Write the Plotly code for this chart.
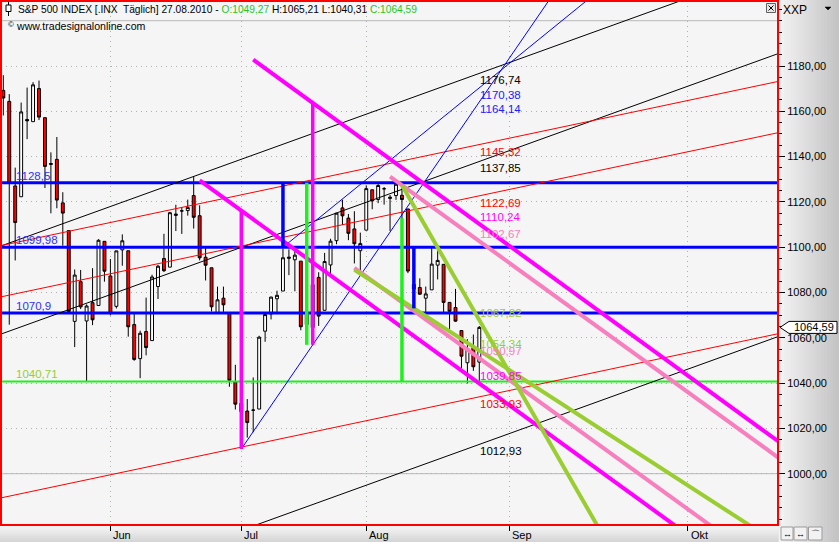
import plotly.graph_objects as go

# ---------------- data ----------------
bars = list(range(81))  # trading days 05.05.2010 .. 27.08.2010
opens = [1169.24, 1164.38, 1127.04, 1122.27, 1156.39, 1155.43, 1170.04, 1157.19, 1136.52, 1138.78,
         1119.57, 1107.34, 1067.26, 1084.78, 1067.42, 1075.51, 1074.27, 1102.59, 1087.30, 1073.89,
         1098.82, 1098.43, 1065.84, 1050.81, 1062.75, 1058.77, 1082.65, 1095.00, 1091.21, 1114.02,
         1115.98, 1116.16, 1122.79, 1113.90, 1095.57, 1090.93, 1071.10, 1077.50, 1071.10, 1040.56,
         1031.10, 1027.65, 1028.09, 1028.54, 1062.92, 1070.50, 1077.23, 1080.65, 1095.61, 1094.46,
         1093.85, 1065.84, 1064.53, 1086.67, 1072.14, 1092.17, 1102.89, 1117.36, 1112.84, 1108.07,
         1098.44, 1107.53, 1125.34, 1121.06, 1125.78, 1122.07, 1122.80, 1122.92, 1116.89, 1081.48,
         1082.22, 1077.49, 1081.16, 1092.08, 1092.44, 1075.63, 1073.36, 1063.20, 1048.98, 1056.28,
         1049.27]
highs = [1175.95, 1167.58, 1135.13, 1163.85, 1170.48, 1172.87, 1173.57, 1157.19, 1141.88, 1148.66,
         1124.27, 1107.34, 1090.16, 1089.95, 1074.75, 1090.75, 1103.52, 1102.59, 1094.77, 1098.42,
         1105.67, 1098.43, 1071.36, 1063.15, 1077.74, 1087.85, 1092.25, 1105.91, 1115.59, 1118.74,
         1117.72, 1121.01, 1131.23, 1118.50, 1099.64, 1090.93, 1082.60, 1082.60, 1071.10, 1048.08,
         1033.58, 1032.95, 1042.50, 1060.89, 1071.25, 1078.16, 1080.78, 1099.46, 1099.08, 1098.66,
         1093.85, 1074.70, 1083.94, 1088.96, 1097.50, 1103.73, 1115.01, 1120.95, 1114.66, 1115.90,
         1106.44, 1127.30, 1125.44, 1128.75, 1126.56, 1123.06, 1129.24, 1127.16, 1116.89, 1086.72,
         1086.25, 1082.62, 1100.14, 1099.77, 1092.44, 1075.63, 1081.58, 1063.20, 1059.38, 1061.45,
         1065.21]
lows = [1158.15, 1065.79, 1094.15, 1122.27, 1147.71, 1155.43, 1156.14, 1126.14, 1114.96, 1117.20,
        1100.66, 1071.58, 1055.90, 1072.70, 1040.78, 1065.59, 1074.27, 1084.78, 1069.89, 1072.94,
        1091.81, 1060.50, 1049.86, 1042.17, 1052.25, 1058.77, 1077.12, 1089.03, 1091.21, 1107.13,
        1105.87, 1113.93, 1108.24, 1094.18, 1085.31, 1071.60, 1071.10, 1071.45, 1038.38, 1028.33,
        1010.91, 1015.93, 1018.35, 1028.54, 1058.24, 1068.10, 1070.45, 1080.65, 1087.68, 1080.53,
        1063.32, 1061.11, 1056.88, 1065.25, 1072.14, 1087.88, 1101.30, 1109.78, 1103.11, 1092.82,
        1088.01, 1107.53, 1116.76, 1119.46, 1118.81, 1107.17, 1120.91, 1111.58, 1088.55, 1076.69,
        1079.00, 1069.49, 1081.16, 1085.76, 1070.66, 1063.91, 1067.08, 1046.68, 1039.83, 1045.40,
        1040.31]
closes = [1165.87, 1128.15, 1110.88, 1159.73, 1155.79, 1171.67, 1157.44, 1135.68, 1136.94, 1120.80,
          1115.05, 1071.59, 1087.69, 1073.65, 1074.03, 1067.95, 1103.06, 1089.41, 1070.71, 1098.38,
          1102.83, 1064.88, 1050.47, 1062.00, 1055.69, 1086.84, 1091.60, 1089.63, 1115.23, 1114.61,
          1116.04, 1117.51, 1113.20, 1095.31, 1092.04, 1073.69, 1076.76, 1074.57, 1041.24, 1030.71,
          1027.37, 1022.58, 1028.06, 1060.27, 1070.25, 1077.96, 1078.75, 1095.34, 1095.17, 1096.48,
          1064.88, 1071.25, 1083.48, 1069.59, 1093.67, 1102.66, 1115.01, 1113.84, 1106.13, 1101.53,
          1101.60, 1125.86, 1120.46, 1127.24, 1125.81, 1121.64, 1127.79, 1121.06, 1089.47, 1083.61,
          1079.25, 1079.38, 1092.54, 1094.16, 1075.63, 1071.69, 1067.36, 1051.87, 1055.33, 1047.22,
          1064.59]

month_ticks = [18, 40, 61, 85, 115]
month_names = ["Jun", "Jul", "Aug", "Sep", "Okt"]
price_ticks = [1000, 1020, 1040, 1060, 1080, 1100, 1120, 1140, 1160, 1180]
solid_grid_levels = [1000, 1200]

hline_levels = [1128.5, 1099.98, 1070.9]
hline_texts = ["1128,5", "1099,98", "1070,9"]
support_level = 1040.71
support_text = "1040,71"

black_last = [1176.74, 1137.85, 1012.93]
black_texts = ["1176,74", "1137,85", "1012,93"]
black_slope = 0.948
red_last = [1145.32, 1122.69, 1033.93]
red_texts = ["1145,32", "1122,69", "1033,93"]
red_slope = 0.555

blue_start_bar = [40, 47]
blue_start_val = [1010.91, 1099.98]
blue_last = [1164.14, 1170.38]
blue_texts = ["1164,14", "1170,38"]

magenta_start_bar = [42, 33]
magenta_start_val = [1182.8, 1129.5]
magenta_last = [1110.24, 1039.85]
magenta_texts = ["1110,24", "1039,85"]

pink_start_bar = [65, 59]
pink_start_val = [1131.2, 1090.9]
pink_last = [1102.67, 1050.97]
pink_texts = ["1102,67", "1050,97"]

olive_start_bar = [67, 59]
olive_start_val = [1127.3, 1090.0]
olive_last = [1067.82, 1054.34]
olive_texts = ["1067,82", "1054,34"]

blue_v_bar = [47, 69]
blue_v_top = [1128.5, 1099.98]
blue_v_bottom = [1099.98, 1073.0]
green_v_bar = [51, 67]
green_v_top = [1128.5, 1112.8]
green_v_bottom = [1056.9, 1040.71]
magenta_v_bar = [40, 52]
magenta_v_top = [1116.1, 1163.7]
magenta_v_bottom = [1010.91, 1056.88]

last_bar = 80
last_price = 1064.59
last_price_text = "1064,59"

# ---------------- styling constants ----------------
FONT = "Liberation Sans, Arial, sans-serif"
BLUE = "#0000ff"
MAGENTA = "#ff00ff"
PINK = "#f77fbe"
OLIVE = "#9acd32"
LIME = "#1ef01e"
RED = "#ff0000"
X_RANGE = [-0.387, 130.2]
Y_RANGE = [977.35, 1208.7]
X_LO, X_HI = -3, 140

# pixel -> paper helpers (plot area: x 1..778, y 1..525)
PL, PT, PW, PH = 1, 1, 777, 524


def px(x):
    return (x - PL) / PW


def py(y):
    return (PT + PH - y) / PH


fig = go.Figure()

fig.add_trace(go.Candlestick(
    x=bars, open=opens, high=highs, low=lows, close=closes,
    increasing=dict(line=dict(color="black", width=1), fillcolor="white"),
    decreasing=dict(line=dict(color="black", width=1), fillcolor="red"),
    whiskerwidth=0, showlegend=False, hoverinfo="skip"))


def add_line(xs, ys, color, width):
    fig.add_trace(go.Scatter(x=xs, y=ys, mode="lines", line=dict(color=color, width=width),
                             showlegend=False, hoverinfo="skip"))


# horizontal levels
for lv in hline_levels:
    add_line([X_LO, X_HI], [lv, lv], BLUE, 3)
add_line([X_LO, X_HI], [support_level, support_level], LIME, 2)

# parallel infinite trend lines
for vals, slope, col in [(black_last, black_slope, "black"), (red_last, red_slope, RED)]:
    for v in vals:
        add_line([X_LO, X_HI], [v - (last_bar - X_LO) * slope, v + (X_HI - last_bar) * slope], col, 1)

# rays
for sb, sv, lv, col, w in [(blue_start_bar, blue_start_val, blue_last, BLUE, 1),
                           (pink_start_bar, pink_start_val, pink_last, PINK, 4),
                           (magenta_start_bar, magenta_start_val, magenta_last, MAGENTA, 4),
                           (olive_start_bar, olive_start_val, olive_last, OLIVE, 4)]:
    for b0, v0, v1 in zip(sb, sv, lv):
        s = (v1 - v0) / (last_bar - b0)
        add_line([b0, X_HI], [v0, v0 + (X_HI - b0) * s], col, w)

# verticals
for bl, tp, bt, col in [(blue_v_bar, blue_v_top, blue_v_bottom, BLUE),
                        (green_v_bar, green_v_top, green_v_bottom, LIME),
                        (magenta_v_bar, magenta_v_top, magenta_v_bottom, MAGENTA)]:
    for b, t, d in zip(bl, tp, bt):
        add_line([b, b], [t, d], col, 3.5)

annotations = []


def ann(text, x, y, xref, yref, color="black", size=11, xanchor="left", yanchor="middle", xshift=0, yshift=0):
    annotations.append(dict(text=text, x=x, y=y, xref=xref, yref=yref, showarrow=False,
                            font=dict(family=FONT, size=size, color=color),
                            xanchor=xanchor, yanchor=yanchor, xshift=xshift, yshift=yshift))


# left level labels
for lv, t in zip(hline_levels, hline_texts):
    ann(t, px(14), lv, "paper", "y", color="#3030ff", size=11.5, yshift=7)
ann(support_text, px(14), support_level, "paper", "y", color=OLIVE, size=11.5, yshift=7)

# right line labels at the last bar
for vals, texts, col, sh in [(black_last, black_texts, "black", -7),
                             (red_last, red_texts, RED, -7),
                             (blue_last, blue_texts, "#2020ff", -7),
                             (magenta_last, magenta_texts, MAGENTA, 7),
                             (pink_last, pink_texts, PINK, 7),
                             (olive_last, olive_texts, OLIVE, 7)]:
    for v, t in zip(vals, texts):
        ann(t, last_bar, v, "x", "y", color=col, size=11.5, yshift=sh, xshift=-1)

# month labels
for m, n in zip(month_ticks, month_names):
    ann(n, m, 0, "x", "paper", xshift=1, yshift=-10)

# header
header = ("S&amp;P 500 INDEX [.INX\u00a0 Täglich] 27.08.2010 - "
          "<span style='color:#1ec81e'>O:1049,27</span> H:1065,21 L:1040,31 "
          "<span style='color:#1ec81e'>C:1064,59</span>")
ann(header, px(16), py(9), "paper", "paper", size=10.2)
ann("www.tradesignalonline.com", px(14), py(26), "paper", "paper", size=10.6)
ann("©", px(6), py(25), "paper", "paper", size=8)
ann("XXP", px(781), py(10), "paper", "paper", size=12)
ann(last_price_text, px(792), last_price, "paper", "y")
for bx, sym in zip([787, 800.5, 815], ["↔", "↔", "⌒"]):
    ann(sym, px(bx), py(533.5), "paper", "paper", size=9, xanchor="center")

shapes = []
# right axis panel gradient
n = 20
for i in range(n):
    x0 = 778.5 + i * (60.5 / n)
    x1 = 778.5 + (i + 1) * (60.5 / n) + 0.3
    c = int(244 - (244 - 196) * i / (n - 1))
    shapes.append(dict(type="rect", xref="paper", yref="paper", x0=px(x0), x1=px(x1), y0=py(542), y1=py(0),
                       fillcolor=f"rgb({c},{c},{c})", line=dict(width=0), layer="below"))
# bottom axis panel gradient
m = 8
for i in range(m):
    y0 = 525.5 + i * (16.5 / m)
    y1 = 525.5 + (i + 1) * (16.5 / m) + 0.3
    c = int(246 - (246 - 214) * i / (m - 1))
    shapes.append(dict(type="rect", xref="paper", yref="paper", x0=px(0), x1=px(778.5), y0=py(y1), y1=py(y0),
                       fillcolor=f"rgb({c},{c},{c})", line=dict(width=0), layer="below"))
# solid grid levels
for lv in solid_grid_levels:
    shapes.append(dict(type="line", xref="paper", yref="y", x0=0, x1=1, y0=lv, y1=lv,
                       line=dict(color="#b8b8b8", width=1), layer="below"))
# red frame
shapes.append(dict(type="rect", xref="paper", yref="paper", x0=0, x1=1, y0=0, y1=1,
                   line=dict(color=RED, width=2), layer="above"))
# header icon
shapes.append(dict(type="line", xref="paper", yref="paper", x0=px(8.5), x1=px(8.5), y0=py(2), y1=py(16),
                   line=dict(color="black", width=1)))
shapes.append(dict(type="rect", xref="paper", yref="paper", x0=px(6), x1=px(11), y0=py(11.5), y1=py(5),
                   fillcolor="white", line=dict(color="black", width=1)))
# close box
shapes.append(dict(type="rect", xref="paper", yref="paper", x0=px(766.5), x1=px(775.5), y0=py(12.5), y1=py(3.5),
                   fillcolor="#e8e8e8", line=dict(color="#606060", width=1)))
shapes.append(dict(type="path", xref="paper", yref="paper",
                   path=f"M {px(768.5)},{py(5.5)} L {px(773.5)},{py(10.5)} M {px(773.5)},{py(5.5)} L {px(768.5)},{py(10.5)}",
                   line=dict(color="black", width=1)))
# dropdown triangle
shapes.append(dict(type="path", xref="paper", yref="paper",
                   path=f"M {px(825)},{py(7)} L {px(831)},{py(7)} L {px(828)},{py(10)} Z",
                   fillcolor="black", line=dict(color="black", width=0.5)))
# last price marker
y_top = last_price + 6 / 2.265
y_bot = last_price - 6 / 2.265
shapes.append(dict(type="path", xref="paper", yref="y",
                   path=(f"M {px(780)},{last_price} L {px(789)},{y_top} L {px(837)},{y_top} "
                         f"L {px(837)},{y_bot} L {px(789)},{y_bot} Z"),
                   fillcolor="white", line=dict(color="black", width=1), layer="below"))
# bottom-right buttons
for x0, x1 in [(781, 793), (794, 807), (808.5, 822)]:
    shapes.append(dict(type="rect", xref="paper", yref="paper", x0=px(x0), x1=px(x1), y0=py(540), y1=py(527),
                       fillcolor="#f2f2f2", line=dict(color="#9a9a9a", width=1), layer="below"))

fig.update_layout(
    width=839, height=542,
    margin=dict(l=PL, r=839 - PL - PW, t=PT, b=542 - PT - PH),
    paper_bgcolor="#dcdcdc", plot_bgcolor="#f5f5f5",
    separators=",.",
    font=dict(family=FONT, size=11, color="black"),
    showlegend=False,
    annotations=annotations, shapes=shapes,
    xaxis=dict(range=X_RANGE, tickvals=month_ticks, showticklabels=False, ticks="outside", ticklen=5,
               tickcolor="black", showgrid=True, gridcolor="#a3b7a3", griddash="1px,4px", gridwidth=1,
               zeroline=False, showline=False, rangeslider=dict(visible=False), fixedrange=True),
    yaxis=dict(range=Y_RANGE, side="right", tickvals=price_ticks, tickformat=".2f", ticks="outside",
               ticklen=6, tickcolor="black", showgrid=True, gridcolor="#b0b0b0", griddash="1px,4px",
               zeroline=False, showline=False,
               tickfont=dict(family=FONT, size=11, color="black"),
               minor=dict(tickmode="linear", tick0=0, dtick=5, ticks="outside", ticklen=3,
                          tickcolor="black", showgrid=False),
               fixedrange=True),
)

fig.write_html("out.html", config={"displayModeBar": False},
               post_script="document.body.style.margin='0px';document.body.style.overflow='hidden';")
